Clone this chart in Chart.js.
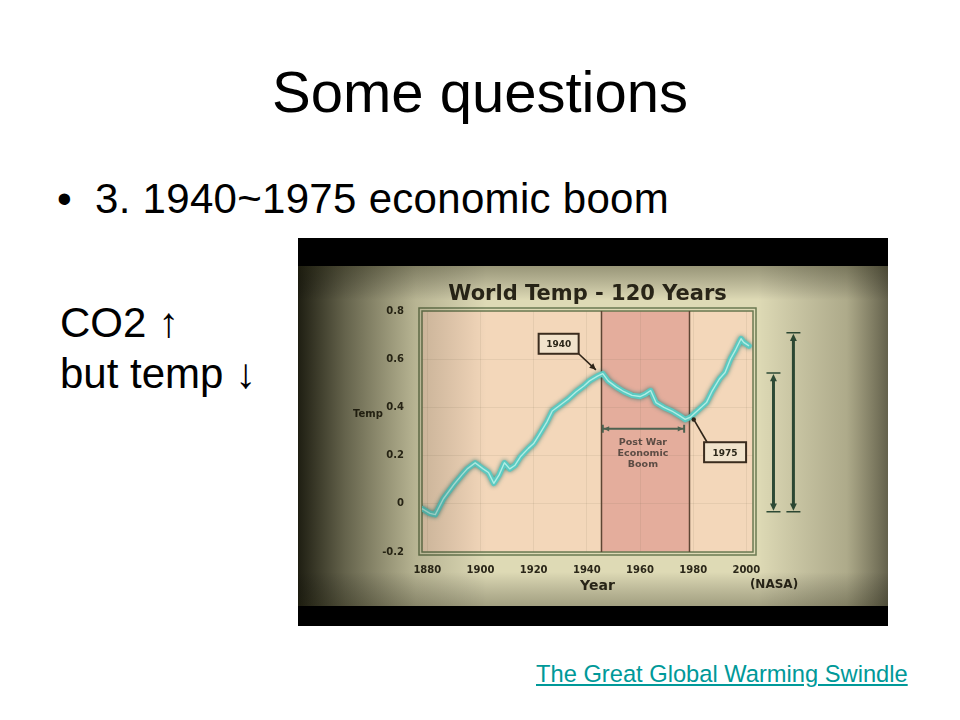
<!DOCTYPE html>
<html>
<head>
<meta charset="utf-8">
<title>Some questions</title>
<script src="https://cdn.jsdelivr.net/npm/chart.js@4"></script>
<style>
  html, body { margin: 0; padding: 0; background: #fff; }
  body { width: 960px; height: 720px; position: relative; overflow: hidden; font-family: "Liberation Sans", Arial, sans-serif; color: #000; }
  .slide-title { position: absolute; left: 0; width: 960px; top: 63px; text-align: center; font-size: 58px; line-height: 1; }
  .bullet { position: absolute; font-size: 42px; line-height: 1; white-space: nowrap; }
  .link { position: absolute; left: 536px; top: 663px; font-size: 23.7px; line-height: 1; color: #009999; text-decoration: underline; white-space: nowrap; }
  #frame { position: absolute; left: 298px; top: 238px; width: 590px; height: 388px; background: #000; }
</style>
</head>
<body>
<div class="slide-title">Some questions</div>
<div class="bullet" style="left:57px; top:178px;">•</div>
<div class="bullet" style="left:95px; top:178px; letter-spacing:0.3px;">3. 1940~1975 economic boom</div>
<div class="bullet" style="left:60px; top:302px;">CO2 ↑</div>
<div class="bullet" style="left:60px; top:353px;">but temp ↓</div>
<a class="link" href="#">The Great Global Warming Swindle</a>

<div id="frame"><canvas id="tempChart" width="590" height="388"></canvas></div>

<script>
/* ── DATA ── */
var YEARS = [1878, 1881, 1883, 1886, 1890, 1893, 1895, 1898, 1901, 1903,
             1905, 1907, 1909, 1911, 1913, 1915, 1918, 1920, 1922, 1925,
             1927, 1930, 1933, 1936, 1939, 1941, 1944, 1946, 1948, 1951,
             1954, 1957, 1960, 1962, 1964, 1966, 1969, 1972, 1975, 1977,
             1979, 1982, 1985, 1987, 1990, 1992, 1994, 1996, 1998, 1999, 2001];
var TEMPS = [-0.02, -0.04, -0.045, 0.02, 0.08, 0.12, 0.145, 0.17, 0.145, 0.13,
             0.085, 0.12, 0.17, 0.145, 0.16, 0.195, 0.23, 0.25, 0.285, 0.34,
             0.385, 0.41, 0.435, 0.465, 0.49, 0.51, 0.53, 0.54, 0.51, 0.485,
             0.465, 0.45, 0.445, 0.455, 0.47, 0.42, 0.40, 0.385, 0.365, 0.35,
             0.36, 0.39, 0.42, 0.465, 0.52, 0.545, 0.60, 0.64, 0.685, 0.67, 0.655];

var X_TICKS = [1880, 1900, 1920, 1940, 1960, 1980, 2000];
var Y_TICKS = [-0.2, 0, 0.2, 0.4, 0.6, 0.8];
var Y_TICK_LABELS = ['-0.2', '0', '0.2', '0.4', '0.6', '0.8'];

var CHART_TITLE = 'World Temp - 120 Years';
var BAND = [1945.3, 1978.5];                     // post war boom shading
var NOTE_1940 = { text: '1940', x: 1929.4, y: 0.664, tipX: 1943.4, tipY: 0.556 };
var NOTE_1975 = { text: '1975', x: 1992, y: 0.214, tipX: 1980.2, tipY: 0.35 };
var BOOM_SPAN = [1946, 1976.6];
var BOOM_Y = 0.311;
var BOOM_TEXT = ['Post War', 'Economic', 'Boom'];
var BOOM_TEXT_X = 1961.1;
var BOOM_TEXT_Y = [0.253, 0.207, 0.162];
var RANGE_X = [2010.2, 2017.7];
var RANGE_TOP = [0.543, 0.71];
var RANGE_BOTTOM = [-0.033, -0.033];

/* ── HELPERS ── */
var INK = '#2b2719';
var BOLD = function (px) { return 'bold ' + px + 'px "DejaVu Sans", sans-serif'; };

function arrowHead(ctx, x1, y1, x2, y2, size) {
  var a = Math.atan2(y2 - y1, x2 - x1);
  ctx.beginPath();
  ctx.moveTo(x2, y2);
  ctx.lineTo(x2 - size * Math.cos(a - 0.45), y2 - size * Math.sin(a - 0.45));
  ctx.lineTo(x2 - size * Math.cos(a + 0.45), y2 - size * Math.sin(a + 0.45));
  ctx.closePath();
  ctx.fill();
}

function noteBox(ctx, cx, cy, w, h, text) {
  ctx.fillStyle = '#f1e3cc';
  ctx.fillRect(cx - w / 2, cy - h / 2, w, h);
  ctx.strokeStyle = '#3a2c1e';
  ctx.lineWidth = 2;
  ctx.strokeRect(cx - w / 2, cy - h / 2, w, h);
  ctx.fillStyle = INK;
  ctx.font = BOLD(9);
  ctx.textAlign = 'center';
  ctx.textBaseline = 'middle';
  ctx.fillText(text, cx, cy + 1);
}

/* ── BACKDROP: video frame, plot paper, band ── */
var backdropPlugin = {
  id: 'backdrop',
  beforeDraw: function (chart) {
    var ctx = chart.ctx, a = chart.chartArea, xs = chart.scales.x;
    ctx.save();
    ctx.fillStyle = '#000';
    ctx.fillRect(0, 0, chart.width, chart.height);
    ctx.fillStyle = '#dedab5';
    ctx.fillRect(0, 28, chart.width, 340);
    ctx.fillStyle = '#f3d7ba';
    ctx.fillRect(a.left, a.top, a.right - a.left, a.bottom - a.top);
    var b0 = xs.getPixelForValue(BAND[0]), b1 = xs.getPixelForValue(BAND[1]);
    ctx.fillStyle = '#e4ad9c';
    ctx.fillRect(b0, a.top, b1 - b0, a.bottom - a.top);
    ctx.restore();
  },
  beforeDatasetsDraw: function (chart) {
    var ctx = chart.ctx, a = chart.chartArea, xs = chart.scales.x;
    ctx.save();
    // double frame around the plot
    ctx.strokeStyle = '#6b7a52';
    ctx.lineWidth = 1.5;
    ctx.strokeRect(a.left, a.top, a.right - a.left, a.bottom - a.top);
    ctx.strokeRect(a.left - 3, a.top - 3, a.right - a.left + 6, a.bottom - a.top + 6);
    // band edges
    ctx.strokeStyle = '#5e4634';
    ctx.lineWidth = 1.5;
    for (var i = 0; i < BAND.length; i++) {
      var px = Math.round(xs.getPixelForValue(BAND[i])) + 0.5;
      ctx.beginPath();
      ctx.moveTo(px, a.top);
      ctx.lineTo(px, a.bottom);
      ctx.stroke();
    }
    ctx.restore();
  },
  beforeDatasetDraw: function (chart) {
    chart.ctx.save();
    chart.ctx.shadowColor = 'rgba(20,110,105,0.75)';
    chart.ctx.shadowBlur = 4;
  },
  afterDatasetDraw: function (chart, args) {
    var ctx = chart.ctx;
    ctx.restore();
    // light core of the glowing line
    var pts = args.meta.data;
    ctx.save();
    ctx.strokeStyle = 'rgba(205,250,240,0.75)';
    ctx.lineWidth = 1.4;
    ctx.lineJoin = 'round';
    ctx.beginPath();
    for (var i = 0; i < pts.length; i++) {
      if (i === 0) ctx.moveTo(pts[i].x, pts[i].y); else ctx.lineTo(pts[i].x, pts[i].y);
    }
    ctx.stroke();
    ctx.restore();
  }
};

/* ── ANNOTATIONS + VIGNETTE ── */
var notesPlugin = {
  id: 'notes',
  afterDraw: function (chart) {
    var ctx = chart.ctx, a = chart.chartArea, xs = chart.scales.x, ys = chart.scales.y;
    var i;
    ctx.save();

    // chart title
    ctx.fillStyle = INK;
    ctx.font = BOLD(21);
    ctx.textAlign = 'center';
    ctx.textBaseline = 'middle';
    ctx.fillText(CHART_TITLE, (a.left + a.right) / 2, a.top - 16);

    // axis labels
    ctx.font = BOLD(10);
    ctx.fillText('Temp', a.left - 54, ys.getPixelForValue(0.4) + 7);
    ctx.font = BOLD(14);
    ctx.fillText('Year', xs.getPixelForValue(1944), a.bottom + 34);
    ctx.font = BOLD(12);
    ctx.fillText('(NASA)', a.right + 21, a.bottom + 33);

    // 1940 callout
    var bx = xs.getPixelForValue(NOTE_1940.x), by = ys.getPixelForValue(NOTE_1940.y);
    var tx = xs.getPixelForValue(NOTE_1940.tipX), ty = ys.getPixelForValue(NOTE_1940.tipY);
    ctx.strokeStyle = '#2e2418';
    ctx.fillStyle = '#2e2418';
    ctx.lineWidth = 1.6;
    ctx.beginPath();
    ctx.moveTo(bx + 20, by + 10);
    ctx.lineTo(tx, ty);
    ctx.stroke();
    arrowHead(ctx, bx + 20, by + 10, tx, ty, 7);
    noteBox(ctx, bx, by, 40, 20, NOTE_1940.text);

    // 1975 callout
    bx = xs.getPixelForValue(NOTE_1975.x); by = ys.getPixelForValue(NOTE_1975.y);
    tx = xs.getPixelForValue(NOTE_1975.tipX); ty = ys.getPixelForValue(NOTE_1975.tipY);
    ctx.strokeStyle = '#2e2418';
    ctx.fillStyle = '#2e2418';
    ctx.lineWidth = 1.6;
    ctx.beginPath();
    ctx.moveTo(bx - 18, by - 10);
    ctx.lineTo(tx, ty);
    ctx.stroke();
    ctx.beginPath();
    ctx.arc(tx, ty, 2.2, 0, Math.PI * 2);
    ctx.fill();
    noteBox(ctx, bx, by, 42, 20, NOTE_1975.text);

    // post war boom span
    var s0 = xs.getPixelForValue(BOOM_SPAN[0]), s1 = xs.getPixelForValue(BOOM_SPAN[1]);
    var sy = ys.getPixelForValue(BOOM_Y);
    ctx.strokeStyle = '#4d6250';
    ctx.fillStyle = '#4d6250';
    ctx.lineWidth = 2;
    ctx.beginPath();
    ctx.moveTo(s0, sy); ctx.lineTo(s1, sy);
    ctx.moveTo(s0, sy - 4); ctx.lineTo(s0, sy + 4);
    ctx.moveTo(s1, sy - 4); ctx.lineTo(s1, sy + 4);
    ctx.stroke();
    arrowHead(ctx, s1, sy, s0 + 1, sy, 6);
    arrowHead(ctx, s0, sy, s1 - 1, sy, 6);
    ctx.fillStyle = '#5c4c44';
    ctx.font = BOLD(9.5);
    ctx.textAlign = 'center';
    ctx.textBaseline = 'middle';
    for (i = 0; i < BOOM_TEXT.length; i++) {
      ctx.fillText(BOOM_TEXT[i], xs.getPixelForValue(BOOM_TEXT_X), ys.getPixelForValue(BOOM_TEXT_Y[i]));
    }

    // range arrows right of the plot
    ctx.strokeStyle = '#2f4d37';
    ctx.fillStyle = '#2f4d37';
    for (i = 0; i < RANGE_X.length; i++) {
      var rx = xs.getPixelForValue(RANGE_X[i]);
      var r0 = ys.getPixelForValue(RANGE_TOP[i]), r1 = ys.getPixelForValue(RANGE_BOTTOM[i]);
      ctx.lineWidth = 3;
      ctx.beginPath();
      ctx.moveTo(rx, r0 + 6); ctx.lineTo(rx, r1 - 6);
      ctx.stroke();
      ctx.lineWidth = 1.5;
      ctx.beginPath();
      ctx.moveTo(rx - 7, r0); ctx.lineTo(rx + 7, r0);
      ctx.moveTo(rx - 7, r1); ctx.lineTo(rx + 7, r1);
      ctx.stroke();
      arrowHead(ctx, rx, r1, rx, r0 + 1, 8);
      arrowHead(ctx, rx, r0, rx, r1 - 1, 8);
    }

    // vignette of the video still: strong on the left, softer elsewhere
    ctx.beginPath();
    ctx.rect(0, 28, chart.width, 340);
    ctx.clip();
    var gh = ctx.createLinearGradient(0, 0, chart.width, 0);
    gh.addColorStop(0, 'rgba(14,14,4,0.92)');
    gh.addColorStop(0.08, 'rgba(20,20,6,0.6)');
    gh.addColorStop(0.2, 'rgba(30,30,10,0.2)');
    gh.addColorStop(0.32, 'rgba(0,0,0,0)');
    gh.addColorStop(0.78, 'rgba(0,0,0,0)');
    gh.addColorStop(0.93, 'rgba(30,28,10,0.25)');
    gh.addColorStop(1, 'rgba(18,16,6,0.6)');
    ctx.fillStyle = gh;
    ctx.fillRect(0, 28, chart.width, 340);
    var gv = ctx.createLinearGradient(0, 28, 0, 368);
    gv.addColorStop(0, 'rgba(25,25,8,0.35)');
    gv.addColorStop(0.1, 'rgba(0,0,0,0)');
    gv.addColorStop(0.9, 'rgba(0,0,0,0)');
    gv.addColorStop(1, 'rgba(25,25,8,0.3)');
    ctx.fillStyle = gv;
    ctx.fillRect(0, 28, chart.width, 340);
    ctx.restore();
  }
};

/* ── CHART ── */
var points = [];
for (var k = 0; k < YEARS.length; k++) points.push({ x: YEARS[k], y: TEMPS[k] });

new Chart(document.getElementById('tempChart').getContext('2d'), {
  type: 'line',
  data: {
    datasets: [{
      label: 'World Temp',
      data: points,
      borderColor: '#5ccac1',
      borderWidth: 5.5,
      borderJoinStyle: 'round',
      borderCapStyle: 'round',
      pointRadius: 0,
      tension: 0,
      fill: false
    }]
  },
  options: {
    responsive: false,
    animation: false,
    layout: { padding: { left: 84, right: 135, top: 73, bottom: 44 } },
    plugins: { legend: { display: false }, tooltip: { enabled: false }, title: { display: false } },
    scales: {
      x: {
        type: 'linear',
        min: 1878,
        max: 2002.5,
        afterBuildTicks: function (s) { s.ticks = X_TICKS.map(function (v) { return { value: v }; }); },
        afterFit: function (s) { s.height = 30; },
        border: { display: false },
        grid: { color: 'rgba(110,100,70,0.1)', drawTicks: false },
        ticks: {
          color: INK,
          padding: 12,
          maxRotation: 0,
          autoSkip: false,
          font: { family: 'DejaVu Sans', size: 10, weight: 'bold' },
          callback: function (v) { return String(v); }
        }
      },
      y: {
        min: -0.2,
        max: 0.8,
        afterBuildTicks: function (s) { s.ticks = Y_TICKS.map(function (v) { return { value: v }; }); },
        afterFit: function (s) { s.width = 40; },
        border: { display: false },
        grid: { color: 'rgba(110,100,70,0.1)', drawTicks: false },
        ticks: {
          color: INK,
          padding: 18,
          autoSkip: false,
          font: { family: 'DejaVu Sans', size: 10, weight: 'bold' },
          callback: function (v, i) { return Y_TICK_LABELS[i]; }
        }
      }
    }
  },
  plugins: [backdropPlugin, notesPlugin]
});
</script>
</body>
</html>
